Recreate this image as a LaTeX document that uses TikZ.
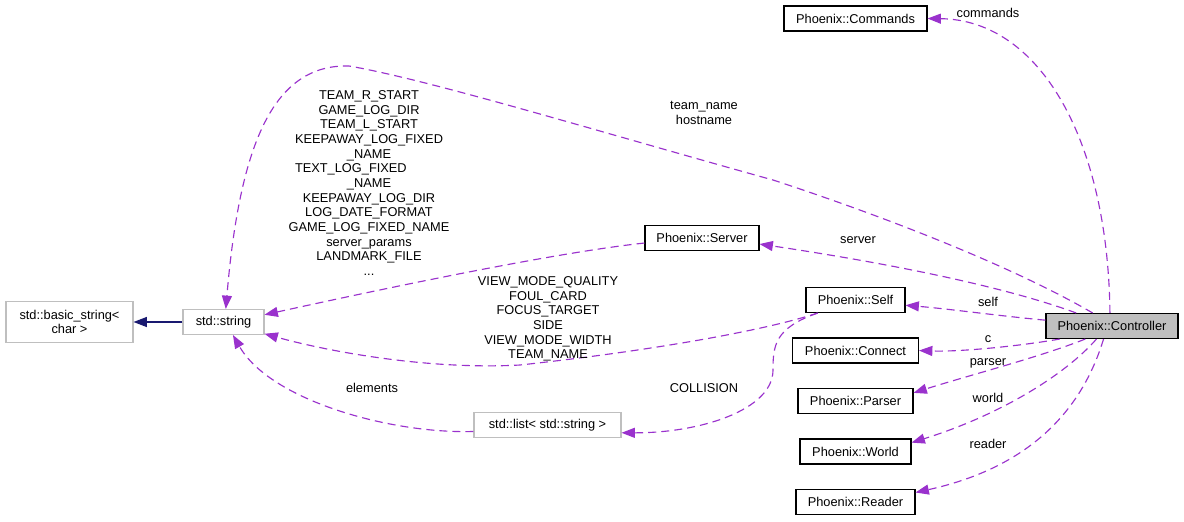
\documentclass[tikz,border=0pt]{standalone}
\usepackage{fontspec}
\setmainfont{Liberation Sans}
\usepackage{calc}
\usetikzlibrary{arrows.meta}
\definecolor{dep}{HTML}{9A32CD}
\definecolor{inh}{HTML}{191970}
\definecolor{gborder}{HTML}{BFBFBF}
\definecolor{ctrlfill}{HTML}{BFBFBF}
\tikzset{
  cls/.style={draw=black, line width=0.8pt, fill=white, minimum height=18.75pt, inner sep=1.5pt, font=\fontsize{9.6}{11}\selectfont},
  extcls/.style={cls, draw=gborder},
  usage/.style={draw=dep, line width=0.85pt, dash pattern=on 6pt off 3.8pt, -{Triangle[length=10pt,width=7.5pt]}},
  inherit/.style={draw=inh, line width=0.85pt, -{Triangle[length=10pt,width=7.5pt]}},
  lbl/.style={font=\fontsize{9.6}{11}\selectfont, inner sep=0pt, align=center},
}
\begin{document}
\begin{tikzpicture}[x=0.75pt,y=-0.75pt]
\useasboundingbox (0,0) rectangle (1184,521);
\fill[white] (0,0) rectangle (1184,521);
% nodes
\node[cls, minimum width=107.25pt] (commands) at (855.5,18.5) {Phoenix::Commands};
\node[cls, fill=ctrlfill, minimum width=99pt] (controller) at (1112,326) {Phoenix::Controller};
\node[cls, minimum width=85.5pt] (server) at (702,238) {Phoenix::Server};
\node[cls, minimum width=74.25pt] (self) at (855.5,300) {Phoenix::Self};
\node[cls, minimum width=94.5pt] (connect) at (855.5,350.5) {Phoenix::Connect};
\node[cls, minimum width=86.25pt] (parser) at (855.5,401) {Phoenix::Parser};
\node[cls, minimum width=83.25pt] (world) at (855.5,451.5) {Phoenix::World};
\node[cls, minimum width=89.25pt] (reader) at (855.5,502) {Phoenix::Reader};
\node[extcls, minimum width=95.25pt, minimum height=30.75pt, align=center] (basic) at (69.5,322) {std::basic\_string<\\char >};
\node[extcls, minimum width=60.75pt] (string) at (223.5,322) {std::string};
\node[extcls, minimum width=110.25pt] (list) at (547.5,425) {std::list< std::string >};
% connectors
\draw[usage] (controller.99) .. controls (1108,140) and (1040,20) .. (commands.east);
\draw[usage] (controller.146) .. controls (1010,265) and (880,215) .. (773,180)
   .. controls (600,132) and (430,80) .. (349,66)
   .. controls (275,64) and (240,140) .. (string.80);
\draw[usage] (server.185) .. controls (560,252) and (400,285) .. (string.10);
\draw[usage] (controller.160) .. controls (1000,285) and (880,262) .. (server.354);
\draw[usage] (controller.175) .. controls (1000,316) and (950,309) .. (self.354);
\draw[usage] (controller.194) .. controls (1020,346) and (960,352) .. (connect.east);
\draw[usage] (controller.206) .. controls (1040,357) and (970,375) .. (parser.8);
\draw[usage] (controller.220) .. controls (1065,375) and (1000,415) .. (world.9);
\draw[usage] (controller.237) .. controls (1085,400) and (1040,465) .. (reader.9);
\draw[usage] (self.199) .. controls (760,332) and (640,352) .. (520,365)
   .. controls (430,370) and (330,352) .. (string.344);
\draw[usage] (self.199) .. controls (775,328) and (773,345) .. (773,370)
   .. controls (773,410) and (700,433) .. (list.354);
\draw[usage] (list.185) .. controls (390,434) and (270,400) .. (string.306);
\draw[inherit] (string.west) -- (basic.east);
% labels
\node[lbl] (lcommands) at (988,13) {commands};
\node[lbl] (lteam) at (704,113) {team\_name\\hostname};
\node[lbl] (lserver) at (858,240) {server};
\node[lbl] (lself) at (988,302) {self};
\node[lbl] (lc) at (988,339) {c};
\node[lbl] (lparser) at (988,363) {parser};
\node[lbl] (lworld) at (988,398) {world};
\node[lbl] (lreader) at (988,444) {reader};
\node[lbl] (lcollision) at (704,388) {COLLISION};
\node[lbl] (lelements) at (372,388) {elements};
\node[lbl] (lview) at (548,319) {VIEW\_MODE\_QUALITY\\FOUL\_CARD\\FOCUS\_TARGET\\SIDE\\VIEW\_MODE\_WIDTH\\TEAM\_NAME};
\node[lbl] (lsrv) at (369,183) {TEAM\_R\_START\\GAME\_LOG\_DIR\\TEAM\_L\_START\\KEEPAWAY\_LOG\_FIXED\\\_NAME\\\makebox[\widthof{KEEPAWAY\_LOG\_FIXED}][l]{TEXT\_LOG\_FIXED}\\\_NAME\\KEEPAWAY\_LOG\_DIR\\LOG\_DATE\_FORMAT\\GAME\_LOG\_FIXED\_NAME\\server\_params\\LANDMARK\_FILE\\...};
\end{tikzpicture}
\end{document}
